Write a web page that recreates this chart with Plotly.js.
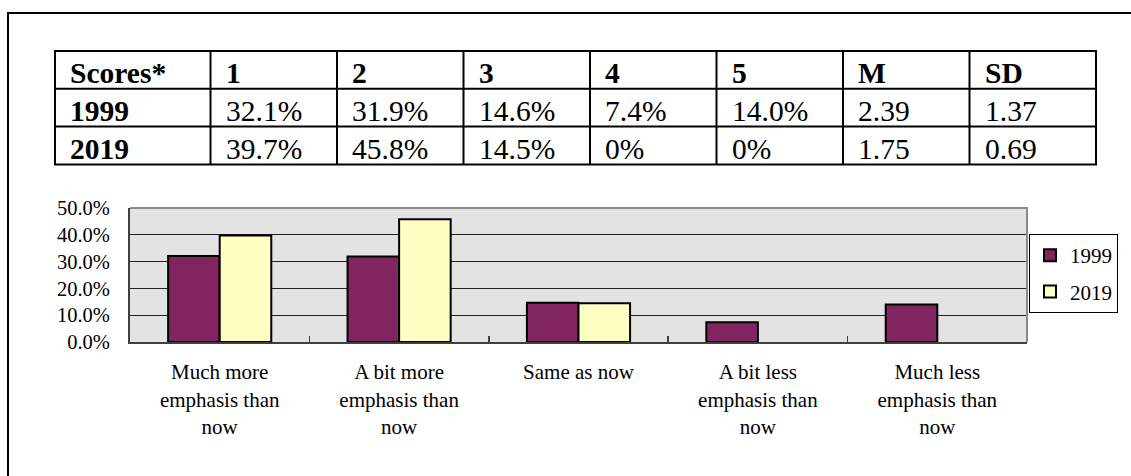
<!DOCTYPE html>
<html>
<head>
<meta charset="utf-8">
<script src="https://cdn.plot.ly/plotly-3.0.1.min.js"></script>
<style>html,body{margin:0;padding:0;background:#fff;}#chart{width:1131px;height:476px;}</style>
</head>
<body>
<div id="chart"></div>
<script>
// ---- data ----
const categories = [
  'Much more<br>emphasis than<br>now',
  'A bit more<br>emphasis than<br>now',
  'Same as now',
  'A bit less<br>emphasis than<br>now',
  'Much less<br>emphasis than<br>now'
];
const seriesNames = ['1999', '2019'];
const values1999 = [32.1, 31.9, 14.6, 7.4, 14.0];
const values2019 = [39.7, 45.8, 14.5, 0, 0];
const means = [2.39, 1.75];
const sds = [1.37, 0.69];
const tableHeader = ['Scores*', '1', '2', '3', '4', '5', 'M', 'SD'];
const yTickVals = [0, 10, 20, 30, 40, 50];

// ---- table content built from the data ----
const fmtPct = v => (v === 0 ? '0%' : v.toFixed(1) + '%');
const seriesRows = [values1999, values2019];
const tableRows = [tableHeader.map(h => '<b>' + h + '</b>')];
seriesRows.forEach((r, i) => {
  tableRows.push(['<b>' + seriesNames[i] + '</b>']
    .concat(r.map(fmtPct))
    .concat([means[i].toFixed(2), sds[i].toFixed(2)]));
});

const W = 1131, H = 476;
const px = x => x / W;
const py = y => 1 - y / H;
const FONT = 'Liberation Serif';

// table geometry (layout only)
const tLeft = 55, tTop = 51, rowH = 37.8;
const colW = [155.5, 126.5, 126.5, 126.5, 126.5, 126.5, 126.5, 126.5];
const colX = [tLeft];
colW.forEach(w => colX.push(colX[colX.length - 1] + w));
const tRight = colX[colX.length - 1];
const tBottom = tTop + rowH * tableRows.length;

const shapes = [];
const annotations = [];
// outer frame of the figure
shapes.push({ type: 'rect', xref: 'paper', yref: 'paper',
  x0: px(8), y0: py(13), x1: 1.05, y1: -0.05,
  line: { color: '#000', width: 2 }, fillcolor: 'rgba(0,0,0,0)', layer: 'below' });
// table grid
for (let r = 0; r <= tableRows.length; r++) {
  const y = tTop + r * rowH;
  shapes.push({ type: 'line', xref: 'paper', yref: 'paper',
    x0: px(tLeft - 1), x1: px(tRight + 1), y0: py(y), y1: py(y),
    line: { color: '#000', width: 2 } });
}
colX.forEach(x => {
  shapes.push({ type: 'line', xref: 'paper', yref: 'paper',
    x0: px(x), x1: px(x), y0: py(tTop), y1: py(tBottom),
    line: { color: '#000', width: 2 } });
});
tableRows.forEach((row, r) => {
  row.forEach((txt, c) => {
    annotations.push({
      xref: 'paper', yref: 'paper',
      x: px(colX[c] + 13), y: py(tTop + r * rowH + rowH / 2 + 3),
      xanchor: 'left', yanchor: 'middle',
      text: txt, showarrow: false,
      font: { family: FONT, size: 29.5, color: '#000' }
    });
  });
});
// plot-area top/right border (grey)
shapes.push({ type: 'path', xref: 'paper', yref: 'paper',
  path: `M ${px(130)} ${py(208)} L ${px(1027)} ${py(208)} L ${px(1027)} ${py(342)}`,
  line: { color: '#8a8a8a', width: 2 }, layer: 'above' });

const traces = [
  {
    type: 'bar', name: seriesNames[0], x: categories, y: values1999,
    legendgroup: 'a',
    marker: { color: '#822460', line: { color: '#000', width: values1999.map(v => v === 0 ? 0 : 2) } },
    hoverinfo: 'skip'
  },
  {
    type: 'bar', name: seriesNames[1], x: categories, y: values2019,
    legendgroup: 'b',
    marker: { color: '#FFFFC4', line: { color: '#000', width: values2019.map(v => v === 0 ? 0 : 2) } },
    hoverinfo: 'skip'
  }
];

const layout = {
  width: W, height: H,
  margin: { l: 0, r: 0, t: 0, b: 0 },
  paper_bgcolor: '#fff',
  plot_bgcolor: '#E3E3E3',
  font: { family: FONT, color: '#000' },
  showlegend: true,
  barmode: 'group',
  bargap: 0.425,
  bargroupgap: 0,
  xaxis: {
    domain: [px(130), px(1027)],
    type: 'category',
    showline: true, linecolor: '#404040', linewidth: 2,
    ticks: 'inside', tickson: 'boundaries', ticklen: 6, tickwidth: 1.5, tickcolor: '#404040',
    tickfont: { family: FONT, size: 21, color: '#000' },
    ticklabelstandoff: 10,
    showgrid: false, zeroline: false, fixedrange: true
  },
  yaxis: {
    domain: [py(342), py(208)],
    range: [0, 50],
    tickvals: yTickVals,
    ticktext: yTickVals.map(v => v.toFixed(1) + '%'),
    showline: true, linecolor: '#404040', linewidth: 2,
    ticks: '',
    showgrid: true, gridcolor: '#222', gridwidth: 1.2,
    zeroline: false,
    tickfont: { family: FONT, size: 20.5, color: '#000' },
    ticklabelstandoff: 14,
    fixedrange: true
  },
  legend: {
    x: px(1029), y: py(234), xanchor: 'left', yanchor: 'top',
    bordercolor: '#000', borderwidth: 1, bgcolor: '#fff',
    font: { family: FONT, size: 21, color: '#000' },
    traceorder: 'grouped', tracegroupgap: 6,
    itemwidth: 30
  },
  shapes: shapes,
  annotations: annotations
};

Plotly.newPlot('chart', traces, layout, { staticPlot: true, displayModeBar: false });
</script>
</body>
</html>
